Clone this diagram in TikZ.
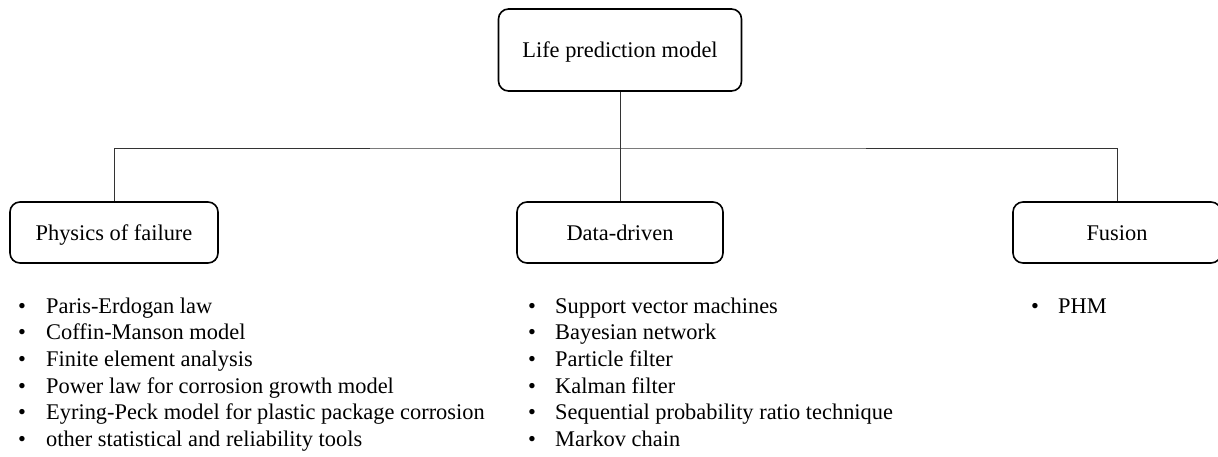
\documentclass[tikz,border=0pt]{standalone}
\usepackage{fontspec}
\setmainfont{Liberation Serif}
\begin{document}
\begin{tikzpicture}[x=1pt,y=-1pt,
  box/.style={draw=black, line width=1.6pt, rounded corners=10pt, fill=white,
    inner sep=0pt, text height=15pt, text depth=0pt,
    font=\fontsize{22.4}{26.7}\selectfont},
  conn/.style={draw=black!80, line width=1pt},
  item/.style={anchor=base west, inner sep=0pt, font=\fontsize{22.4}{26.7}\selectfont},
  dot/.style={anchor=base, inner sep=0pt, font=\fontsize{22.4}{26.7}\selectfont}]
\useasboundingbox (0,0) rectangle (1218,456);

% category boxes
\node[box, minimum width=243pt, minimum height=82pt] (top) at (620,50) {Life prediction model};
\node[box, minimum width=208pt, minimum height=61pt] (phys) at (114,232.5) {Physics of failure};
\node[box, minimum width=206pt, minimum height=61pt] (data) at (620,232.5) {Data-driven};
\node[box, minimum width=208pt, minimum height=61pt] (fus) at (1117,232.5) {Fusion};

% tree connectors
\coordinate (hub) at (620,148);
\draw[conn] (top.south) -- (data.north);
\draw[conn] (phys.north) |- (hub) -| (fus.north);

% physics of failure list
\foreach \t [count=\i] in {Paris-Erdogan law, Coffin-Manson model, Finite element analysis,
    Power law for corrosion growth model, Eyring-Peck model for plastic package corrosion,
    other statistical and reliability tools}{
  \node[dot] (pb\i) at (22,{313+26.7*(\i-1)}) {•};
  \node[item] (pt\i) at (46,{313+26.7*(\i-1)}) {\t};
}

% data-driven list
\foreach \t [count=\i] in {Support vector machines, Bayesian network, Particle filter,
    Kalman filter, Sequential probability ratio technique, Markov chain}{
  \node[dot] (db\i) at (532,{313+26.7*(\i-1)}) {•};
  \node[item] (dt\i) at (555,{313+26.7*(\i-1)}) {\t};
}

% fusion list
\node[dot] (fb1) at (1035,313) {•};
\node[item] (ft1) at (1058,313) {PHM};
\end{tikzpicture}
\end{document}
